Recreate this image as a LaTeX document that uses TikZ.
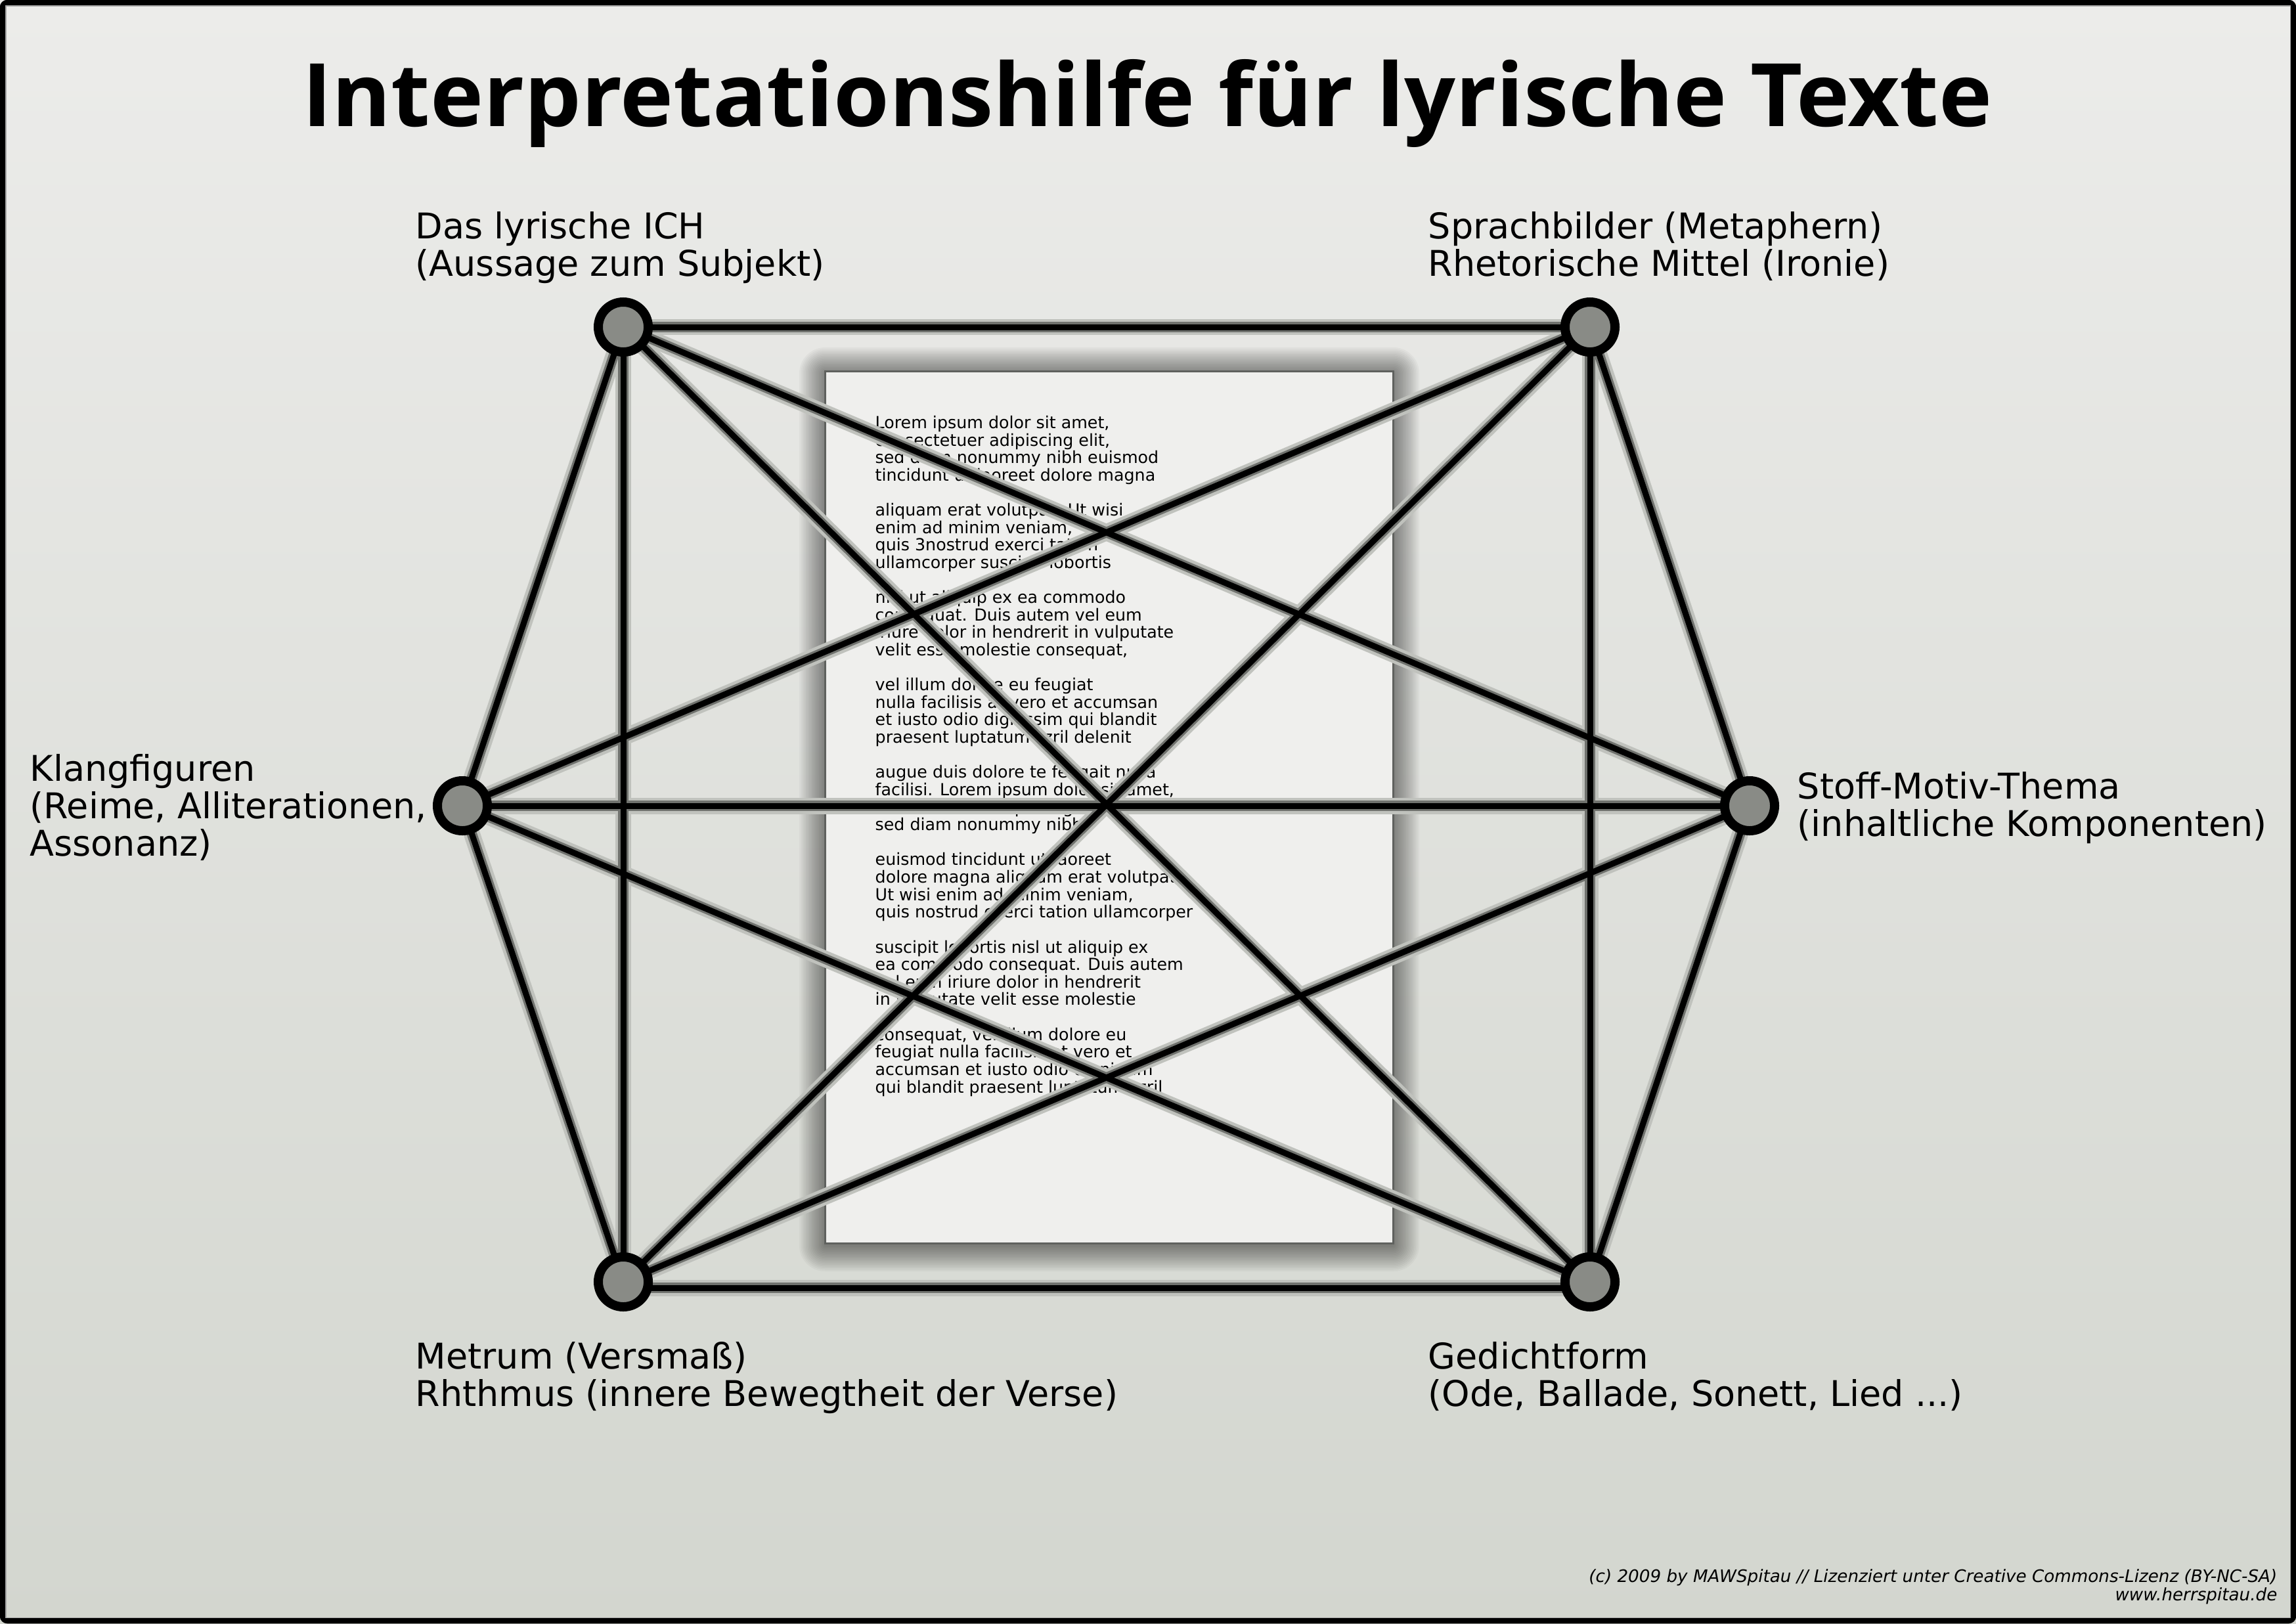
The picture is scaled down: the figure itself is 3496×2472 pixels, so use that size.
\documentclass[tikz,border=0pt]{standalone}
\usepackage{fontspec}
\setmainfont{DejaVu Sans}
\newfontfamily\titlefont{Open Sans}
\pgfdeclarelayer{back}
\pgfdeclarelayer{edges}
\pgfsetlayers{back,edges,main}
\definecolor{bgtop}{RGB}{236,236,234}
\definecolor{bgbot}{RGB}{211,214,207}
\definecolor{dotfill}{RGB}{137,139,134}
\definecolor{haloA}{RGB}{192,194,189}
\definecolor{haloB}{RGB}{112,114,110}
\definecolor{paperfill}{RGB}{239,239,237}
\definecolor{paperedge}{RGB}{95,97,94}
\tikzset{
  dot/.style={circle,draw=black,line width=3.98pt,fill=dotfill,minimum size=0.76cm,inner sep=0pt},
  lbl/.style={anchor=base west,align=left,inner sep=0pt,font=\fontsize{15.35}{16.2}\selectfont},
  haloouter/.style={line width=7.1pt,draw=haloA},
  haloinner/.style={line width=4.4pt,draw=haloB},
  core/.style={line width=2.56pt,draw=black},
  paperbox/.style={rectangle,draw=paperedge,fill=paperfill,line width=0.85pt,minimum width=8.64cm,minimum height=13.27cm,inner sep=0pt},
  poemtext/.style={anchor=base west,align=left,inner sep=0pt,font=\fontsize{7.2}{7.57}\selectfont},
}
\begin{document}
\begin{tikzpicture}[x=0.01cm,y=-0.01cm]
\useasboundingbox (0,0) rectangle (3496,2472);
\begin{pgfonlayer}{back}
  \shade[top color=bgtop,bottom color=bgbot] (0,0) rectangle (3496,2472);
  \draw[line width=2.4pt,rounded corners=2pt] (4,4) rectangle (3492,2468);
  \draw[line width=0.3pt,draw=black!35] (9,9) rectangle (3487,2463);
  \foreach \i in {1,...,16} {
    \fill[black,fill opacity=0.033,rounded corners=\i*0.7pt]
      ({1257-2.5*\i},{569-2.5*\i}) rectangle ({2121+2.5*\i},{1896+2.5*\i});
  }
  \node (paper) [paperbox] at (1689,1229.5) {};
  \node (poem) [poemtext] at (1332,1664) {Lorem ipsum dolor sit amet,\\
consectetuer adipiscing elit,\\
sed diam nonummy nibh euismod\\
tincidunt ut laoreet dolore magna\\[7.57pt]
aliquam erat volutpat. Ut wisi\\
enim ad minim veniam,\\
quis 3nostrud exerci tation\\
ullamcorper suscipit lobortis\\[7.57pt]
nisl ut aliquip ex ea commodo\\
consequat. Duis autem vel eum\\
iriure dolor in hendrerit in vulputate\\
velit esse molestie consequat,\\[7.57pt]
vel illum dolore eu feugiat\\
nulla facilisis at vero et accumsan\\
et iusto odio dignissim qui blandit\\
praesent luptatum zzril delenit\\[7.57pt]
augue duis dolore te feugait nulla\\
facilisi. Lorem ipsum dolor sit amet,\\
consectetuer adipiscing elit,\\
sed diam nonummy nibh\\[7.57pt]
euismod tincidunt ut laoreet\\
dolore magna aliquam erat volutpat.\\
Ut wisi enim ad minim veniam,\\
quis nostrud exerci tation ullamcorper\\[7.57pt]
suscipit lobortis nisl ut aliquip ex\\
ea commodo consequat. Duis autem\\
vel eum iriure dolor in hendrerit\\
in vulputate velit esse molestie\\[7.57pt]
consequat, vel illum dolore eu\\
feugiat nulla facilisis at vero et\\
accumsan et iusto odio dignissim\\
qui blandit praesent luptatum zzril};
\end{pgfonlayer}

\node (title) [anchor=base,inner sep=0pt] at (1747,192) {\resizebox{25.71cm}{1.02cm}{\titlefont\bfseries Interpretationshilfe für lyrische Texte}};

\node (TL) [dot] at (949,498) {};
\node (TR) [dot] at (2421,498) {};
\node (L)  [dot] at (704,1227) {};
\node (R)  [dot] at (2664,1227) {};
\node (BL) [dot] at (949,1952) {};
\node (BR) [dot] at (2421,1952) {};

\node (TLlab) [lbl] at (632,420) {Das lyrische ICH\\(Aussage zum Subjekt)};
\node (TRlab) [lbl] at (2174,420) {Sprachbilder (Metaphern)\\Rhetorische Mittel (Ironie)};
\node (Llab) [lbl] at (45,1303) {Klangfiguren\\(Reime, Alliterationen,\\Assonanz)};
\node (Rlab) [lbl] at (2736,1273) {Stoff-Motiv-Thema\\(inhaltliche Komponenten)};
\node (BLlab) [lbl] at (632,2141) {Metrum (Versmaß)\\Rhthmus (innere Bewegtheit der Verse)};
\node (BRlab) [lbl] at (2174,2141) {Gedichtform\\(Ode, Ballade, Sonett, Lied ...)};

\node (foot) [anchor=base east,align=right,inner sep=0pt,font=\fontsize{7.45}{7.7}\selectfont\itshape] at (3468,2437) {(c) 2009 by MAWSpitau // Lizenziert unter Creative Commons-Lizenz (BY-NC-SA)\\www.herrspitau.de};

\begin{pgfonlayer}{edges}
  \foreach \s in {haloouter,haloinner,core} {
    \foreach \a/\b in {TL/TR,TL/L,TL/BL,TL/R,TL/BR,TR/L,TR/R,TR/BL,TR/BR,L/R,L/BL,L/BR,R/BL,R/BR} {
      \draw[\s] (\a.center) -- (\b.center);
    }
    \draw[\s] ([yshift=-0.09cm]BL.center) -- ([yshift=-0.09cm]BR.center);
  }
\end{pgfonlayer}
\end{tikzpicture}
\end{document}
